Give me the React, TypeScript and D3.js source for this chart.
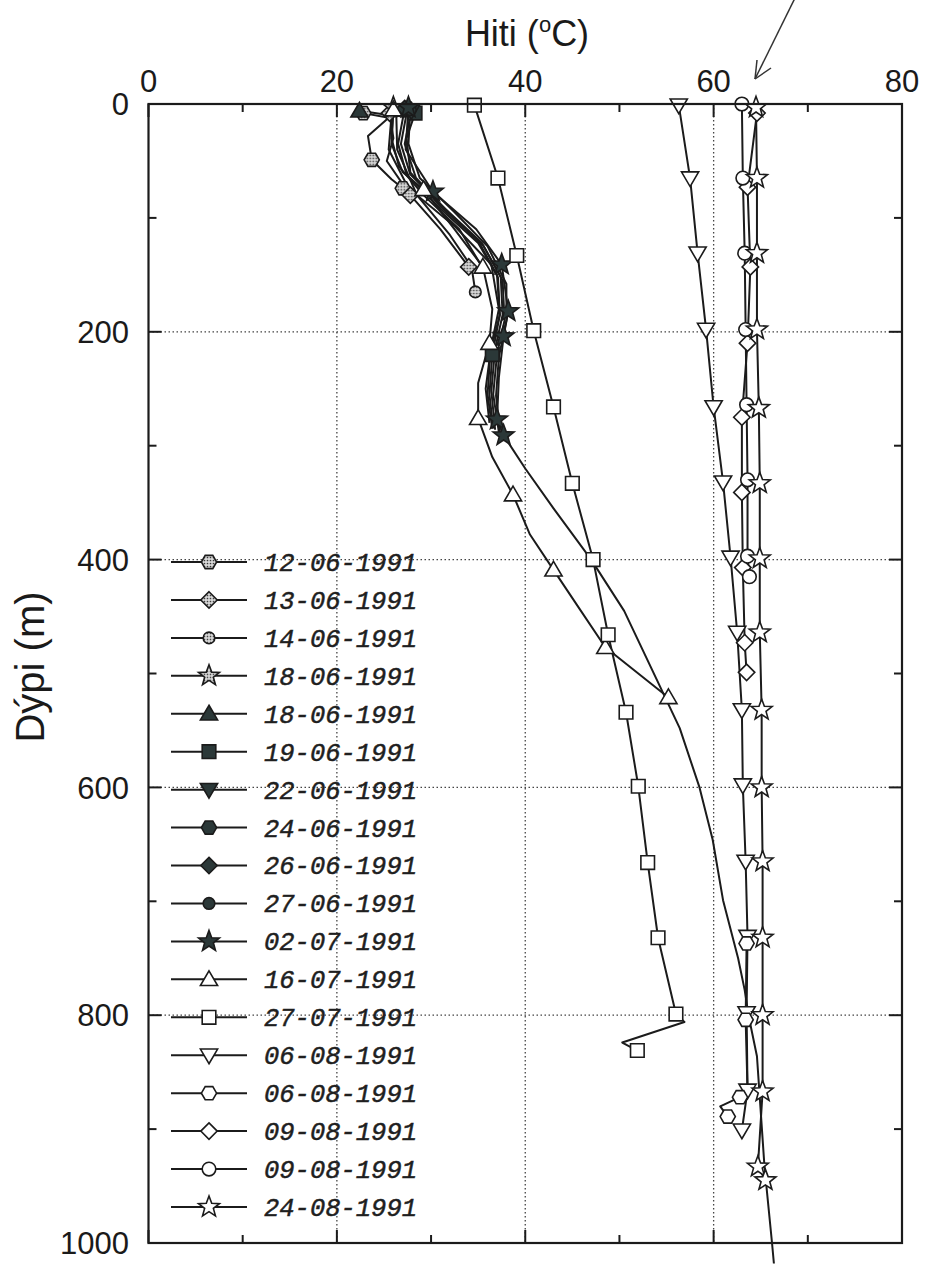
import React from "react";
import * as d3 from "d3";

type P = number[]; // [temperature °C, depth m, marker flag (0 = no marker)]

const xTicks = [0, 20, 40, 60, 80];
const xMinor = [10, 30, 50, 70];
const yTicks = [0, 200, 400, 600, 800, 1000];
const yMinor = [100, 300, 500, 700, 900];
const xGrid = [20, 40, 60];
const yGrid = [200, 400, 600, 800];

const dates = [
  "12-06-1991", "13-06-1991", "14-06-1991", "18-06-1991", "18-06-1991", "19-06-1991",
  "22-06-1991", "24-06-1991", "26-06-1991", "27-06-1991", "02-07-1991", "16-07-1991",
  "27-07-1991", "06-08-1991", "06-08-1991", "09-08-1991", "09-08-1991", "24-08-1991",
];

const s1206: P[] = [[22.8, 8], [25.5, 12, 0], [23.3, 28, 0], [23.7, 49], [25.8, 66, 0], [27, 74]];
const s1306: P[] = [[25.6, 8], [26, 30, 0], [25.3, 50, 0], [27.8, 80], [31, 110, 0], [34, 143]];
const s1406: P[] = [[26.3, 6], [26.4, 40, 0], [28.5, 80, 0], [32, 115, 0], [34.3, 143, 0], [34.7, 165]];
const s1806a: P[] = [[26, 3], [25.8, 30, 0], [26.6, 55, 0], [29.2, 80, 0], [33, 110, 0], [35.2, 140, 0]];
const s1806b: P[] = [[22.4, 6], [25.8, 10, 0], [25.5, 40, 0], [27.6, 74, 0], [32.6, 108, 0], [36.4, 141, 0], [37.2, 180, 0], [36.4, 212, 0], [35.8, 250, 0], [36.2, 280, 0]];
const s1906: P[] = [[28.3, 8], [27.4, 30, 0], [27.8, 60, 0], [31, 90, 0], [35, 120, 0], [37, 150, 0], [37.3, 185, 0], [36.5, 220], [36.2, 255, 0], [36.6, 285, 0]];
const s2206: P[] = [[27.9, 6], [27.2, 35, 0], [28.4, 65, 0], [31.8, 95, 0], [35.6, 125, 0], [37.6, 155, 0], [37.8, 190, 0], [37, 220, 0], [36.6, 255, 0], [37.2, 288, 0]];
const s2406: P[] = [[27.5, 4], [26.8, 35, 0], [27.8, 62, 0], [31.5, 92, 0], [35.4, 122, 0], [37.4, 152, 0], [37.6, 185, 0], [36.8, 215, 0], [36.4, 252, 0], [36.8, 286, 0]];
const s2606: P[] = [[27.2, 4], [26.5, 35, 0], [27.4, 62, 0], [31, 92, 0], [35, 122, 0], [37.1, 152, 0], [37.3, 185, 0], [36.3, 218, 0], [36, 255, 0], [36.5, 285, 0]];
const s2706: P[] = [[27.8, 5], [27.6, 35, 0], [28.8, 65, 0], [32.5, 95, 0], [36, 125, 0], [38, 158, 0], [38, 190, 0], [37.2, 222, 0], [36.9, 256, 0], [37.3, 289, 0]];
const s0207: P[] = [[27.6, 3], [27.3, 40, 0], [30.2, 77], [34.8, 110, 0], [37.5, 141], [38.2, 182], [37.7, 204], [37.2, 240, 0], [37, 277], [37.7, 291],
  [40, 320, 0], [43, 355, 0], [47, 400, 0], [50.5, 445, 0], [54, 506, 0], [56.4, 548, 0], [58.5, 600, 0], [59.9, 646, 0], [61, 699, 0],
  [62.6, 750, 0], [63.3, 778, 0], [63.7, 800, 0], [64.6, 836, 0], [65.4, 933, 0], [66.2, 1000, 0], [66.4, 1018, 0]];
const s1607: P[] = [[26, 5], [25.8, 35, 0], [27, 60, 0], [29.2, 75], [32.5, 110, 0], [35.5, 143], [36.5, 180, 0], [36.2, 210], [35, 245, 0], [35, 276],
  [36.5, 310, 0], [38.7, 343], [40.5, 378, 0], [43, 409], [45.5, 440, 0], [48.5, 477], [55.2, 521]];
const s2707: P[] = [[34.6, 1], [37.1, 65], [39.1, 133], [40.9, 199], [43, 266], [45, 333], [47.2, 400], [48.8, 466], [50.7, 534], [52, 599],
  [53, 666], [54.1, 732], [56, 799], [56.9, 806, 0], [50.3, 824, 0], [51.9, 831]];
const s0608a: P[] = [[56.3, 1], [57.5, 65], [58.3, 131], [59.2, 198], [60, 266], [61, 332], [61.8, 398], [62.5, 464], [63, 532], [63.1, 598],
  [63.4, 665], [63.6, 731], [63.5, 798], [63.6, 866], [63, 901]];
const s0608b: P[] = [[63.5, 737], [63.4, 804], [63.6, 866, 0], [62.8, 872], [60.7, 880, 0], [61.5, 889]];
const s0908a: P[] = [[64.6, 8], [63.6, 73], [63.9, 143], [63.6, 210], [63, 275], [63, 341], [63.1, 407], [63.3, 473], [63.5, 499]];
const s0908b: P[] = [[63, 0], [63.1, 65], [63.3, 131], [63.4, 198], [63.5, 264], [63.6, 330], [63.6, 397], [63.8, 415]];
const s2408: P[] = [[64.5, 3], [64.6, 65], [64.6, 131], [64.6, 198], [64.8, 267], [64.9, 333], [64.9, 399], [64.9, 464], [65.1, 532], [65.1, 600],
  [65.2, 665], [65.2, 732], [65.2, 800], [65.2, 867], [64.7, 933], [65.5, 945]];

const seriesData = [s1206, s1306, s1406, s1806a, s1806b, s1906, s2206, s2406, s2606, s2706, s0207, s1607, s2707, s0608a, s0608b, s0908a, s0908b, s2408];
const shapes = ["hex", "diamond", "circleS", "star", "tri", "square", "down", "hex", "diamond", "circleS", "star", "tri", "square", "down", "hex", "diamond", "circle", "star"];
const fills = ["stip", "stip", "stip", "stip", "dark", "dark", "dark", "dark", "dark", "dark", "dark", "open", "open", "open", "open", "open", "open", "open"];

const DARK = "#2b3838";
const INK = "#1b1b1b";

function shapePath(kind: string): string {
  const pts = (arr: number[][]) => "M" + arr.map((p) => p[0].toFixed(2) + "," + p[1].toFixed(2)).join("L") + "Z";
  if (kind === "circle" || kind === "circleS") {
    const r = kind === "circle" ? 6.8 : 5.8;
    return `M${-r},0A${r},${r} 0 1,0 ${r},0A${r},${r} 0 1,0 ${-r},0Z`;
  }
  if (kind === "square") return pts([[-6.8, -6.8], [6.8, -6.8], [6.8, 6.8], [-6.8, 6.8]]);
  if (kind === "tri") return pts([[0, -8.5], [8.6, 6.2], [-8.6, 6.2]]);
  if (kind === "down") return pts([[0, 8.5], [8.6, -6.2], [-8.6, -6.2]]);
  if (kind === "diamond") return pts([[0, -8.2], [8.2, 0], [0, 8.2], [-8.2, 0]]);
  if (kind === "hex") {
    const r = 7.6;
    return pts(d3.range(6).map((i) => [r * Math.cos((Math.PI / 3) * i), r * Math.sin((Math.PI / 3) * i)]));
  }
  // star
  const R = 11, r = 4.6;
  return pts(d3.range(10).map((i) => {
    const a = -Math.PI / 2 + (Math.PI / 5) * i;
    const rr = i % 2 === 0 ? R : r;
    return [rr * Math.cos(a), rr * Math.sin(a)];
  }));
}

function fillOf(f: string) {
  if (f === "stip") return "url(#stipple)";
  if (f === "dark") return DARK;
  return "#ffffff";
}

export default function App() {
  const x = d3.scaleLinear().domain([0, 80]).range([148.5, 902]);
  const y = d3.scaleLinear().domain([0, 1000]).range([104, 1243]);
  const line = d3.line<P>().x((p) => x(p[0])).y((p) => y(p[1]));
  const X0 = x(0), X1 = x(80), Y0 = y(0), Y1 = y(1000);
  const tickFont = "'Liberation Sans', Arial, sans-serif";
  const legendY = d3.scaleLinear().domain([0, 17]).range([562, 1207]);

  return (
    <div style={{ position: "absolute", left: 0, top: 0 }}>
      <svg width={925} height={1266} viewBox="0 0 925 1266" style={{ display: "block", background: "#fff" }}>
        <defs>
          <pattern id="stipple" width="3" height="3" patternUnits="userSpaceOnUse">
            <rect width="3" height="3" fill="#d9d9d9" />
            <circle cx="1.5" cy="1.5" r="0.85" fill="#3a3a3a" />
          </pattern>
        </defs>
        <rect width={925} height={1266} fill="#fff" />

        {/* grid */}
        {xGrid.map((t) => (
          <line key={"gx" + t} x1={x(t)} x2={x(t)} y1={Y0} y2={Y1} stroke="#444" strokeWidth={1.3} strokeDasharray="1.5,2.5" />
        ))}
        {yGrid.map((t) => (
          <line key={"gy" + t} x1={X0} x2={X1} y1={y(t)} y2={y(t)} stroke="#444" strokeWidth={1.3} strokeDasharray="1.5,2.5" />
        ))}

        {/* ticks */}
        {xTicks.map((t) => (
          <g key={"xt" + t}>
            <line x1={x(t)} x2={x(t)} y1={Y0} y2={Y0 + 13} stroke={INK} strokeWidth={2} />
            <line x1={x(t)} x2={x(t)} y1={Y1} y2={Y1 - 13} stroke={INK} strokeWidth={2} />
          </g>
        ))}
        {xMinor.map((t) => (
          <g key={"xm" + t}>
            <line x1={x(t)} x2={x(t)} y1={Y0} y2={Y0 + 8} stroke={INK} strokeWidth={2} />
            <line x1={x(t)} x2={x(t)} y1={Y1} y2={Y1 - 8} stroke={INK} strokeWidth={2} />
          </g>
        ))}
        {yTicks.map((t) => (
          <g key={"yt" + t}>
            <line x1={X0} x2={X0 + 13} y1={y(t)} y2={y(t)} stroke={INK} strokeWidth={2} />
            <line x1={X1} x2={X1 - 13} y1={y(t)} y2={y(t)} stroke={INK} strokeWidth={2} />
          </g>
        ))}
        {yMinor.map((t) => (
          <g key={"ym" + t}>
            <line x1={X0} x2={X0 + 8} y1={y(t)} y2={y(t)} stroke={INK} strokeWidth={2} />
            <line x1={X1} x2={X1 - 8} y1={y(t)} y2={y(t)} stroke={INK} strokeWidth={2} />
          </g>
        ))}

        {/* series lines */}
        {seriesData.map((s, i) => (
          <path key={"l" + i} d={line(s) || ""} fill="none" stroke={INK} strokeWidth={2} strokeLinejoin="round" />
        ))}
        {/* series markers */}
        {seriesData.map((s, i) => (
          <g key={"m" + i}>
            {s.filter((p) => p[2] !== 0).map((p, j) => (
              <path key={j} d={shapePath(shapes[i])} transform={`translate(${x(p[0])},${y(p[1])})`}
                fill={fillOf(fills[i])} stroke={INK} strokeWidth={1.6} strokeLinejoin="miter" />
            ))}
          </g>
        ))}

        {/* frame */}
        <rect x={X0} y={Y0} width={X1 - X0} height={Y1 - Y0} fill="none" stroke={INK} strokeWidth={2.2} />

        {/* tick labels */}
        {xTicks.map((t) => (
          <text key={"xl" + t} x={x(t)} y={92} textAnchor="middle" fontFamily={tickFont} fontSize={31} fill="#1a1a1a">{t}</text>
        ))}
        {yTicks.map((t) => (
          <text key={"yl" + t} x={129} y={y(t)} dy="0.36em" textAnchor="end" fontFamily={tickFont} fontSize={31} fill="#1a1a1a">{t}</text>
        ))}

        {/* axis titles */}
        <text x={527} y={46} textAnchor="middle" fontFamily={tickFont} fontSize={36} fill="#1a1a1a">
          Hiti (<tspan dy={-14} fontSize={22}>o</tspan><tspan dy={14}>C)</tspan>
        </text>
        <text transform="translate(44,667) rotate(-90)" textAnchor="middle" fontFamily={tickFont} fontSize={40} fill="#1a1a1a">
          Dýpi (m)
        </text>

        {/* arrow */}
        <line x1={795} y1={-2} x2={755} y2={79} stroke="#333" strokeWidth={1.5} />
        <line x1={755} y1={79} x2={757} y2={60} stroke="#333" strokeWidth={1.5} />
        <line x1={755} y1={79} x2={771} y2={68} stroke="#333" strokeWidth={1.5} />

        {/* legend */}
        {dates.map((lab, i) => (
          <g key={"lg" + i} transform={`translate(0,${legendY(i)})`}>
            <line x1={171} x2={247} y1={0} y2={0} stroke={INK} strokeWidth={2} />
            <path d={shapePath(shapes[i])} transform="translate(209,0)" fill={fillOf(fills[i])} stroke={INK} strokeWidth={1.6} />
            <text x={264} y={0} dy="0.35em" fontFamily="'Liberation Mono', 'Courier New', monospace" fontStyle="italic"
              fontSize={25.5} fill="#1f1f1f" stroke="#1f1f1f" strokeWidth={0.5}>{lab}</text>
          </g>
        ))}
      </svg>
    </div>
  );
}
